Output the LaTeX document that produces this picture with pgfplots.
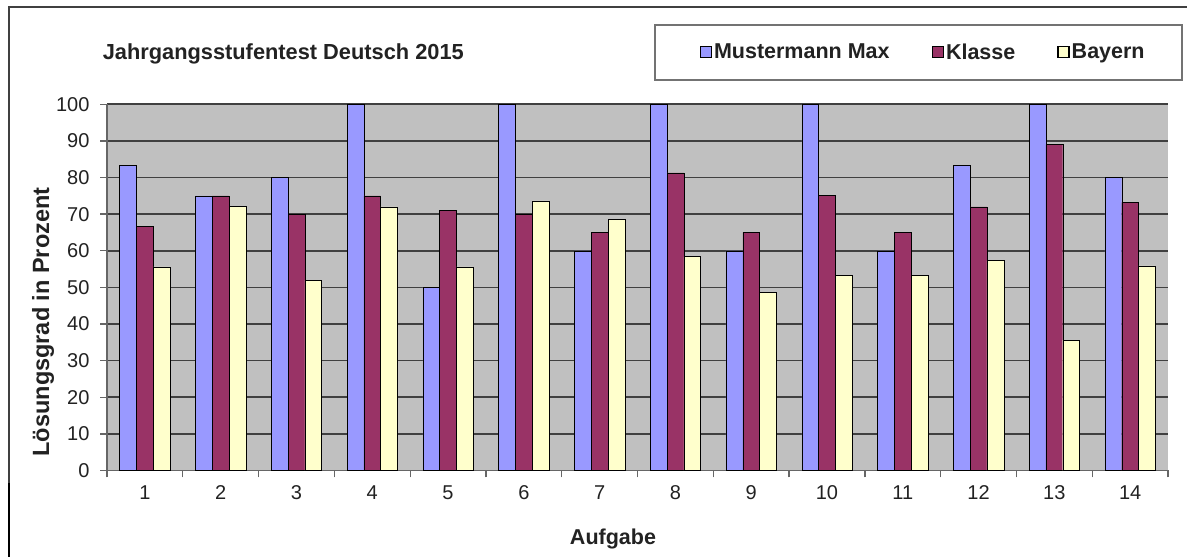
\documentclass[border=0pt]{standalone}
\usepackage{pgfplots}
\pgfplotsset{compat=1.18}
\usepackage{fontspec}
\setmainfont{Liberation Sans}
\definecolor{cblue}{HTML}{9999FF}
\definecolor{cmaroon}{HTML}{993366}
\definecolor{cyellow}{HTML}{FFFFCC}
\definecolor{plotgray}{HTML}{C0C0C0}
\definecolor{txt}{HTML}{222222}
\begin{document}
\begin{tikzpicture}[x=1bp,y=1bp]
\useasboundingbox (0,0) rectangle (1187,557);
\fill[white] (0,0) rectangle (1187,557);
\draw[line width=1.2bp, black!75] (9,74) -- (9,550) -- (1187,550);
\draw[line width=2.6bp, black] (9,0) -- (9,74);
\node[anchor=base west, inner sep=0, font=\fontsize{21.8bp}{24bp}\selectfont\bfseries, text=txt] at (102.6,497.7) {Jahrgangsstufentest Deutsch 2015};
\draw[line width=1.4bp, black!55] (655,477) rectangle (1182,532);
\begin{axis}[
  at={(107bp,86.5bp)}, anchor=south west, scale only axis,
  width=1061bp, height=366.2bp,
  xmin=0.5, xmax=14.5, ymin=0, ymax=100,
  ybar=0pt, bar width=16.8bp,
  axis background/.style={fill=plotgray},
  axis x line*=bottom, axis y line*=left,
  axis line style={line width=1.3bp, black!60},
  tick align=outside, major tick length=7bp,
  tick style={line width=1.3bp, black!60},
  ytick={0,10,...,100},
  xtick={0.5,1.5,...,14.5}, xticklabels={},
  extra x ticks={1,2,...,14},
  extra x tick labels={1,2,3,4,5,6,7,8,9,10,11,12,13,14},
  extra x tick style={major tick length=0pt, grid=none, xticklabel style={yshift=-12bp}},
  yticklabel style={xshift=-7bp},
  ymajorgrids, major grid style={line width=1.6bp, black!75},
  /pgf/number format/assume math mode=true,
  ticklabel style={font=\fontsize{20bp}{22bp}\selectfont, text=txt},
  every bar/.append style={draw=black, line width=1.3bp},
  xlabel={Aufgabe}, ylabel={Lösungsgrad in Prozent},
  every axis x label/.style={at={(rel axis cs:0.4769,-0.2034)}, anchor=base, font=\fontsize{21.5bp}{24bp}\selectfont\bfseries, text=txt},
  every axis y label/.style={at={(rel axis cs:-0.0603,0.4055)}, anchor=center, rotate=90, font=\fontsize{23.5bp}{26bp}\selectfont\bfseries, text=txt},
  legend columns=3,
  legend style={at={(0.7692,1.1428)}, anchor=center, draw=none, fill=none,
    font=\fontsize{21.5bp}{24bp}\selectfont\bfseries, text=txt,
    /tikz/every even column/.append style={column sep=40bp}},
  legend image code/.code={\draw[#1, line width=1.4bp] (0bp,-5.5bp) rectangle (11bp,5.5bp);},
]
\addplot[fill=cblue] coordinates {(1,83.3) (2,75) (3,80) (4,100) (5,50) (6,100) (7,60) (8,100) (9,60) (10,100) (11,60) (12,83.3) (13,100) (14,80)};
\addplot[fill=cmaroon] coordinates {(1,66.7) (2,75) (3,70) (4,75) (5,71) (6,70) (7,65) (8,81.3) (9,65) (10,75.2) (11,65) (12,72) (13,89) (14,73.2)};
\addplot[fill=cyellow] coordinates {(1,55.6) (2,72.2) (3,52) (4,72) (5,55.6) (6,73.6) (7,68.6) (8,58.4) (9,48.7) (10,53.2) (11,53.2) (12,57.3) (13,35.6) (14,55.9)};
\legend{Mustermann Max,Klasse,Bayern}
\end{axis}
\end{tikzpicture}
\end{document}
